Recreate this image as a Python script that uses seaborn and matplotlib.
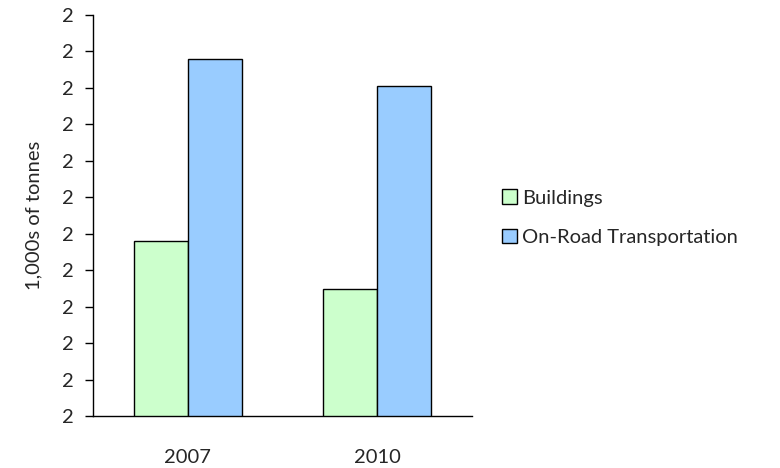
import pandas as pd
import matplotlib
matplotlib.use("Agg")
import matplotlib.pyplot as plt
import matplotlib.ticker as mticker
from matplotlib.patches import Patch
import seaborn as sns

# Data (axis labels are all rounded to "2")
years = ["2007", "2010"]
series = ["Buildings", "On-Road Transportation"]
buildings = [1.790, 1.724]
transport = [2.039, 2.003]
y_ticks = [1.55 + 0.05 * i for i in range(12)]

df = pd.DataFrame({"Year": years * 2,
                   "Sector": [series[0]] * 2 + [series[1]] * 2,
                   "Value": buildings + transport})

sns.set_style("white")
plt.rcParams["font.family"] = ["Lato", "DejaVu Sans"]

colors = {"Buildings": "#CCFFCC", "On-Road Transportation": "#99CCFF"}

fig = plt.figure(figsize=(7.8, 4.68), dpi=100)
ax = fig.add_axes([0.119, 0.111, 0.486, 0.857])
sns.barplot(data=df, x="Year", y="Value", hue="Sector", palette=colors, saturation=1,
            width=0.57, edgecolor="black", linewidth=1, ax=ax, legend=False)

ax.set_ylim(y_ticks[0], y_ticks[-1])
ax.set_xlim(-0.5, 1.5)
ax.set_yticks(y_ticks)
ax.yaxis.set_major_formatter(mticker.FuncFormatter(lambda v, p: "%.0f" % v))
ax.set_xticks([0, 1])
ax.set_xticklabels(years)
ax.set_xticks([-0.5, 0.5, 1.5], minor=True)
ax.tick_params(axis="x", which="major", length=0, labelsize=14.5, pad=24)
ax.tick_params(axis="x", which="minor", length=6, width=1, direction="out", color="black")
ax.tick_params(axis="y", length=6, width=1, direction="out", color="black", labelsize=14.5, pad=8, left=True)
ax.set_xlabel("")
ax.set_ylabel("1,000s of tonnes", fontsize=14.5, labelpad=14)
for side in ["top", "right"]:
    ax.spines[side].set_visible(False)
for side in ["left", "bottom"]:
    ax.spines[side].set_color("black")
    ax.spines[side].set_linewidth(1)

handles = [Patch(facecolor=colors[s], edgecolor="black", linewidth=1) for s in series]
fig.legend(handles, series, loc="center left", bbox_to_anchor=(0.62, 0.535),
           frameon=False, fontsize=14.5, handlelength=0.75, handleheight=0.75,
           handletextpad=0.25, labelspacing=1.1)

fig.savefig("out.png", dpi=100)
